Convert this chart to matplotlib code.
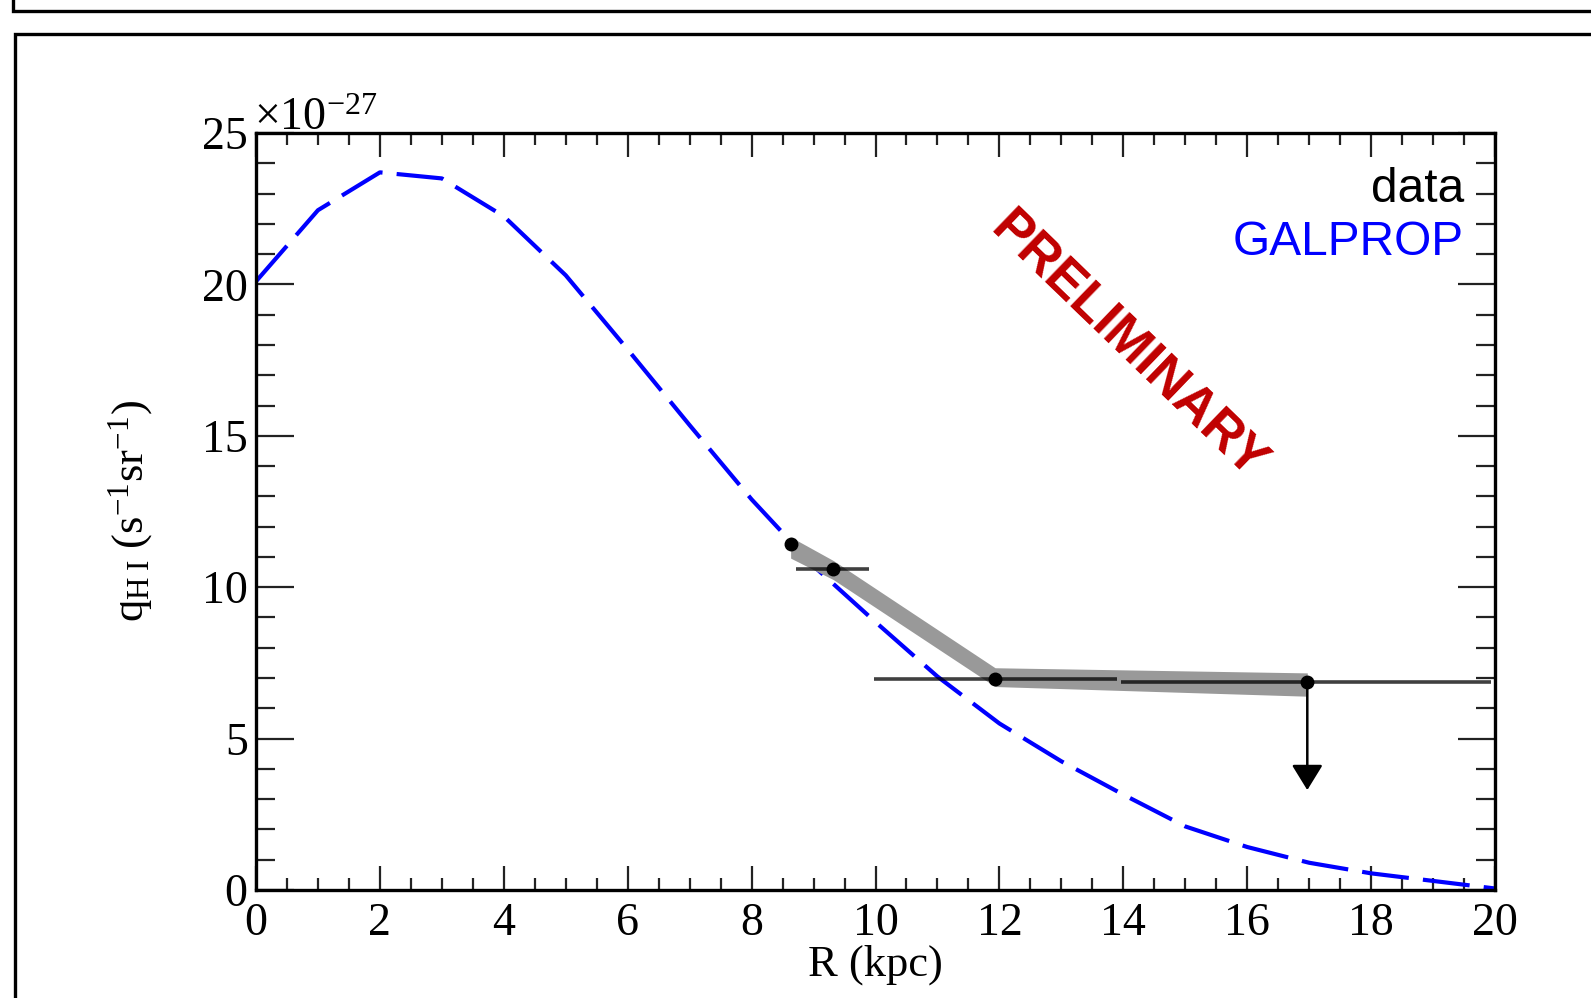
import matplotlib
matplotlib.use('Agg')
import matplotlib.pyplot as plt
from matplotlib.lines import Line2D
from matplotlib.ticker import MultipleLocator

plt.rcParams['mathtext.fontset'] = 'custom'
plt.rcParams['mathtext.rm'] = 'Liberation Serif'
plt.rcParams['mathtext.it'] = 'Liberation Serif:italic'
plt.rcParams['mathtext.default'] = 'regular'

# ---- data (q in units of 1e-27 s^-1 sr^-1) ----
R_model = [0, 1, 2, 3, 4, 5, 6, 7, 8, 9, 10, 11, 12, 13, 14, 15, 16, 17, 18, 19, 20]
q_model = [20.1, 22.45, 23.7, 23.5, 22.25, 20.3, 17.85, 15.35, 12.9, 10.7, 8.85,
           7.05, 5.5, 4.25, 3.15, 2.1, 1.42, 0.9, 0.55, 0.3, 0.05]

R_data = [8.63, 9.32, 11.93, 16.97]
q_data = [11.42, 10.59, 6.97, 6.88]
R_err_lo = [0.0, 0.6, 1.95, 3.0]
R_err_hi = [0.0, 0.58, 1.97, 2.97]
band_upper = [11.66, 10.88, 7.34, 7.17]
band_lower = [10.96, 10.25, 6.72, 6.40]
uplim_R = 16.97
uplim_tip = 3.30

W, H = 1591, 998
fig = plt.figure(figsize=(W / 100, H / 100), dpi=100)

def fx(px):
    return px / W

def fy(py):
    return 1 - py / H

# outer frames
for xs, ys in [([13, 13, W + 5], [-5, 11, 11]), ([W + 5, 15, 15], [34, 34, H + 5])]:
    fig.add_artist(Line2D([fx(x) for x in xs], [fy(y) for y in ys], color='black',
                          lw=2.4, transform=fig.transFigure, clip_on=False,
                          solid_joinstyle='miter'))

left, right, top, bottom = 256, 1495, 133, 890
ax = fig.add_axes([fx(left), fy(bottom), (right - left) / W, (bottom - top) / H])

ax.plot(R_model, q_model, color='#0000ff', lw=3.0, linestyle=(0, (11.3, 3.4)),
        dash_capstyle='butt', zorder=2)
ax.fill_between(R_data, band_lower, band_upper, color='#999999', lw=0, zorder=3)
ax.errorbar(R_data, q_data, xerr=[R_err_lo, R_err_hi], fmt='none', ecolor='black',
            elinewidth=2.6, alpha=0.75, capsize=0, zorder=4)
ax.plot(R_data, q_data, 'o', color='black', ms=9, zorder=5)
ax.annotate('', xy=(uplim_R, uplim_tip), xytext=(uplim_R, q_data[-1]),
            arrowprops=dict(arrowstyle='-|>,head_length=0.78,head_width=0.48',
                            mutation_scale=20, color='black', lw=1.8,
                            shrinkA=0, shrinkB=0), zorder=5)

ax.set_xlim(0, 20)
ax.set_ylim(0, 25)
ax.xaxis.set_major_locator(MultipleLocator(2))
ax.xaxis.set_minor_locator(MultipleLocator(0.5))
ax.yaxis.set_major_locator(MultipleLocator(5))
ax.yaxis.set_minor_locator(MultipleLocator(1))
ax.tick_params(which='both', direction='in', top=True, right=True, width=1.6,
               color='#222222')
ax.tick_params(axis='x', which='major', length=17, pad=9)
ax.tick_params(axis='x', which='minor', length=8.5)
ax.tick_params(axis='y', which='major', length=27, pad=6)
ax.tick_params(axis='y', which='minor', length=13.5)
for lab in ax.get_xticklabels() + ax.get_yticklabels():
    lab.set_fontfamily('Liberation Serif')
    lab.set_fontsize(33)
for s in ax.spines.values():
    s.set_linewidth(2.4)

ax.set_xlabel('R (kpc)', fontfamily='Liberation Serif', fontsize=32, labelpad=0)
ax.set_ylabel(r'q$_{\mathregular{H\;I}}$ (s$^{-1}$sr$^{-1}$)',
              fontfamily='Liberation Serif', fontsize=32, labelpad=34)

ax.text(-0.002, 1.004, r'$\times$10$^{-27}$', transform=ax.transAxes, ha='left',
        va='baseline', fontfamily='Liberation Serif', fontsize=33)

ax.text(0.975, 0.926, 'data', transform=ax.transAxes, ha='right', va='center',
        fontfamily='Liberation Sans', fontsize=34.5, color='black')
ax.text(0.975, 0.855, 'GALPROP', transform=ax.transAxes, ha='right', va='center',
        fontfamily='Liberation Sans', fontsize=34.5, color='#0000ff')

ax.text(14.08, 17.95, 'PRELIMINARY', rotation=-44, rotation_mode='anchor',
        ha='center', va='center', fontfamily='Liberation Sans', fontweight='bold',
        fontsize=38, color='#c00000')

fig.savefig('out.png', dpi=100)
